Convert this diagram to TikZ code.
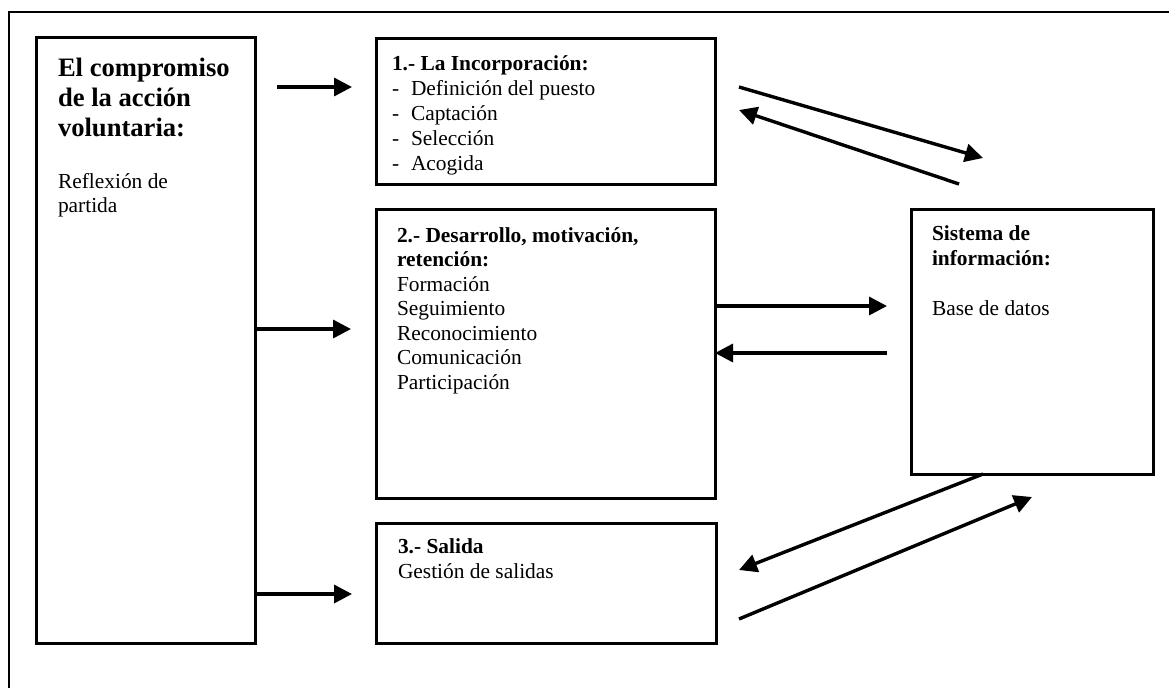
\documentclass[tikz,border=0pt]{standalone}
\usepackage{fontspec}
\setmainfont{Liberation Serif}
\usetikzlibrary{arrows.meta,calc}
\newcommand{\nrmfnt}{\fontsize{21.4pt}{25pt}\selectfont}
\newcommand{\ttlfnt}{\fontsize{26.6pt}{30pt}\selectfont\bfseries}
\begin{document}
\begin{tikzpicture}[x=1pt,y=-1pt,
  box/.style={draw, line width=3pt, inner sep=0pt, outer sep=0pt, anchor=north west},
  arr/.style={line width=3.4pt, -{Triangle[length=18pt,width=18pt]}},
  txt/.style={anchor=base west, inner sep=0pt, outer sep=0pt, font=\nrmfnt},
  btxt/.style={txt, font=\nrmfnt\bfseries},
  ttl/.style={anchor=base west, inner sep=0pt, outer sep=0pt, font=\ttlfnt},
  frame/.style={line width=2.4pt}]
\useasboundingbox (0,0) rectangle (1169,688);
% outer frame (only top and left sides visible)
\draw[frame] (9,688) -- (9,12) -- (1169,12);

% boxes
\node[box, minimum width=219pt, minimum height=606pt] (L) at (36,37) {};
\node[box, minimum width=339pt, minimum height=146pt] (b1) at (376,38) {};
\node[box, minimum width=339pt, minimum height=289pt] (b2) at (376,209) {};
\node[box, minimum width=340pt, minimum height=120pt] (b3) at (376,523) {};
\node[box, minimum width=242pt, minimum height=265pt] (S) at (911,209) {};

% left box text
\node[ttl] (l1) at (58,76) {El compromiso};
\node[ttl] (l2) at (58,106) {de la acción};
\node[ttl] (l3) at (58,136) {voluntaria:};
\node[txt] (l4) at (58,188) {Reflexión de};
\node[txt] (l5) at (58,212) {partida};

% box 1 text
\node[btxt] (t10) at (392,70) {1.- La Incorporación:};
\node[txt] (d11) at (392,95) {-};
\node[txt] (t11) at (411,95) {Definición del puesto};
\node[txt] (d12) at (392,120) {-};
\node[txt] (t12) at (411,120) {Captación};
\node[txt] (d13) at (392,145) {-};
\node[txt] (t13) at (411,145) {Selección};
\node[txt] (d14) at (392,170) {-};
\node[txt] (t14) at (411,170) {Acogida};

% box 2 text
\node[btxt] (t20) at (397,242) {2.- Desarrollo, motivación,};
\node[btxt] (t21) at (397,266) {retención:};
\node[txt] (t22) at (397,291) {Formación};
\node[txt] (t23) at (397,315) {Seguimiento};
\node[txt] (t24) at (397,340) {Reconocimiento};
\node[txt] (t25) at (397,364) {Comunicación};
\node[txt] (t26) at (397,389) {Participación};

% box 3 text
\node[btxt] (t30) at (398,553) {3.- Salida};
\node[txt] (t31) at (398,578) {Gestión de salidas};

% system box text
\node[btxt] (s0) at (932,240) {Sistema de};
\node[btxt] (s1) at (932,265) {información:};
\node[txt] (s2) at (932,315) {Base de datos};

% free arrow ends
\coordinate (a1s) at (277,87);
\coordinate (a1e) at (352,87);
\coordinate (a2e) at (351,329);
\coordinate (a3e) at (352,594);
\coordinate (a4s) at (739,87);
\coordinate (a4e) at (983,158);
\coordinate (a5s) at (959,184);
\coordinate (a5e) at (739,110);
\coordinate (a6e) at (887,306);
\coordinate (a7s) at (887,353);
\coordinate (a8e) at (739,570);
\coordinate (a9s) at (739,619);
\coordinate (a9e) at (1032,497);

% connectors
\draw[arr] (a1s) -- (a1e);
\draw[arr] (L.east |- a2e) -- (a2e);
\draw[arr] (L.east |- a3e) -- (a3e);
\draw[arr] (a4s) -- (a4e);
\draw[arr] (a5s) -- (a5e);
\draw[arr] (b2.east |- a6e) -- (a6e);
\draw[arr] (a7s) -- (b2.east |- a7s);
\draw[arr] (S.south -| a4e) -- (a8e);
\draw[arr] (a9s) -- (a9e);
\end{tikzpicture}
\end{document}
